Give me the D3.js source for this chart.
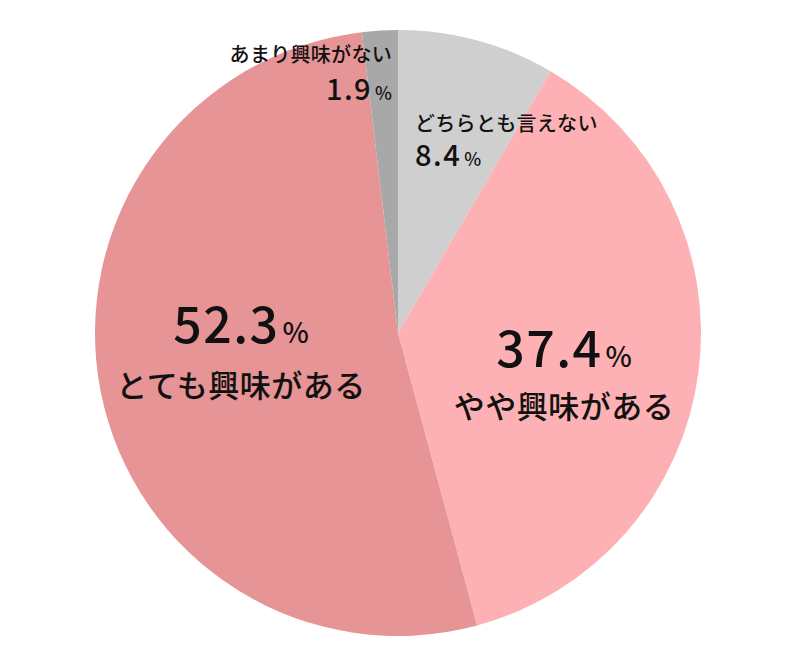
<!DOCTYPE html>
<html><head><meta charset="utf-8">
<script src="https://cdn.jsdelivr.net/npm/d3@7"></script>
<style>
html,body{margin:0;padding:0;background:#fff;}
svg{display:block;}
text{font-family:"Noto Sans CJK JP","Noto Sans",sans-serif;fill:#111;}
</style></head>
<body>
<svg id="chart" width="785" height="663"></svg>
<script>
const categories = ["どちらとも言えない", "やや興味がある", "とても興味がある", "あまり興味がない"];
const values = [8.4, 37.4, 52.3, 1.9];
const colors = ["#cfcfcf", "#fdb1b4", "#e69496", "#a8a8a8"];

const svg = d3.select("#chart");
const cx = 398, cy = 333, r = 303;
const g = svg.append("g").attr("transform", `translate(${cx},${cy})`);

const data = categories.map((c, i) => ({cat: c, val: values[i], color: colors[i]}));
const pie = d3.pie().value(d => d.val).sort(null);
const arc = d3.arc().innerRadius(0).outerRadius(r);

g.selectAll("path").data(pie(data)).join("path")
  .attr("d", arc).attr("fill", d => d.data.color);

// label layout (per slice, by index)
const layout = [
  {anchor: "start", x: 415, nameY: 131, nameSize: 20, pctY: 166, numSize: 29, pctSize: 18},
  {anchor: "middle", x: 564, nameY: 418, nameSize: 31, pctY: 367, numSize: 50, pctSize: 28},
  {anchor: "middle", x: 241, nameY: 397, nameSize: 31, pctY: 343, numSize: 50, pctSize: 28},
  {anchor: "end", x: 392, nameY: 62, nameSize: 20, pctY: 100, numSize: 29, pctSize: 18}
];

data.forEach((d, i) => {
  const L = layout[i];
  svg.append("text")
    .attr("x", L.x).attr("y", L.nameY)
    .attr("text-anchor", L.anchor)
    .attr("font-size", L.nameSize)
    .attr("font-weight", 500)
    .attr("letter-spacing", L.nameSize > 20 ? 0.5 : 0.3)
    .text(d.cat);
  const t = svg.append("text")
    .attr("x", L.x).attr("y", L.pctY)
    .attr("text-anchor", L.anchor)
    .attr("font-weight", 500);
  t.append("tspan").attr("font-size", L.numSize).attr("letter-spacing", 1.5).text(d3.format(".1f")(d.val));
  t.append("tspan").attr("font-size", L.pctSize).attr("dx", 3).text("%");
});
</script>
</body></html>
